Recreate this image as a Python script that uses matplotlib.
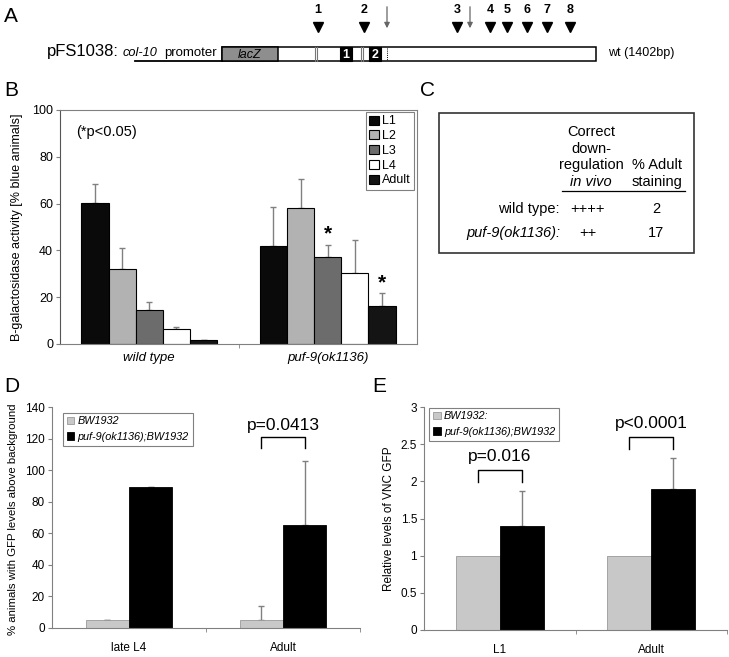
import matplotlib
matplotlib.use("Agg")
import matplotlib.pyplot as plt
from matplotlib.patches import Rectangle
import numpy as np

plt.rcParams['font.family'] = ['Liberation Sans', 'DejaVu Sans']

# ---------------- data ----------------
b_groups = ['wild type', 'puf-9(ok1136)']
b_stages = ['L1', 'L2', 'L3', 'L4', 'Adult']
b_wt = [60.4, 32.0, 14.6, 6.3, 1.5]
b_wt_err = [7.8, 9.0, 3.4, 1.0, 0.0]
b_puf = [41.8, 58.2, 37.2, 30.3, 16.4]
b_puf_err = [16.9, 12.5, 5.3, 14.0, 5.3]
b_stars = [False, False, True, False, True]
b_colors = ['#0a0a0a', '#b2b2b2', '#6c6c6c', '#ffffff', '#141414']

d_cats = ['late L4', 'Adult']
d_series = ['BW1932', 'puf-9(ok1136);BW1932']
d_bw = [5.0, 5.0]
d_bw_err = [0.0, 9.2]
d_puf = [89.5, 65.2]
d_puf_err = [0.0, 40.8]
d_pvals = [None, 'p=0.0413']

e_cats = ['L1', 'Adult']
e_series = ['BW1932:', 'puf-9(ok1136);BW1932']
e_bw = [1.0, 1.0]
e_puf = [1.40, 1.90]
e_puf_err = [0.47, 0.41]
e_pvals = ['p=0.016', 'p<0.0001']

W, H = 729, 657
fig = plt.figure(figsize=(W / 100, H / 100), dpi=100)


def box(l, t, r, b):
    return [l / W, 1 - b / H, (r - l) / W, (b - t) / H]


GREY = '#808080'

# ---------------- panel B ----------------
axB = fig.add_axes(box(60, 110, 417, 344))
x = np.arange(len(b_groups))
bw = 0.152
for i, st in enumerate(b_stages):
    off = (i - 2) * bw
    vals = [b_wt[i], b_puf[i]]
    errs = [b_wt_err[i], b_puf_err[i]]
    axB.bar(x + off, vals, bw, color=b_colors[i], edgecolor='#000000',
            linewidth=0.8, label=st, zorder=2)
    axB.errorbar(x + off, vals, yerr=[np.zeros(2), errs], fmt='none',
                 ecolor=GREY, elinewidth=1, capsize=2, capthick=1, zorder=1)
    if b_stars[i]:
        axB.text(1 + off, b_puf[i] + b_puf_err[i] + 4.5, '*', ha='center',
                 va='center', fontsize=15, fontweight='bold')
axB.set_xlim(-0.5, 1.5)
axB.set_ylim(0, 100)
axB.set_yticks(range(0, 101, 20))
axB.set_xticks(x)
axB.set_xticklabels(b_groups, fontstyle='italic', fontsize=9.5)
axB.set_xticks([0.5], minor=True)
axB.tick_params(axis='x', which='major', length=0, pad=6)
axB.tick_params(axis='x', which='minor', length=3, color=GREY)
axB.tick_params(axis='y', length=3, color=GREY, labelsize=9, pad=2)
for s in axB.spines.values():
    s.set_color(GREY)
axB.spines['left'].set_color('#555555')
axB.set_ylabel('B-galactosidase activity [% blue animals]', fontsize=9)
axB.yaxis.set_label_coords(-0.105, 0.5)
axB.text(0.045, 0.905, '(*p<0.05)', transform=axB.transAxes, fontsize=10.5,
         va='center')
legB = axB.legend(loc='upper right', bbox_to_anchor=(0.991, 0.99),
                  borderaxespad=0, fontsize=9, handlelength=0.75,
                  handleheight=0.75, handletextpad=0.25, labelspacing=0.22,
                  borderpad=0.25, fancybox=False, framealpha=1,
                  edgecolor=GREY)
legB.get_frame().set_linewidth(0.8)

# ---------------- panel D ----------------
axD = fig.add_axes(box(52, 407, 360, 628))
x = np.arange(len(d_cats))
w = 0.28
axD.bar(x - w / 2, d_bw, w, color='#c8c8c8', edgecolor='#999999',
        linewidth=0.6, label=d_series[0], zorder=2)
axD.bar(x + w / 2, d_puf, w, color='#000000', edgecolor='#000000',
        linewidth=0.6, label=d_series[1], zorder=2)
axD.errorbar(x - w / 2, d_bw, yerr=[np.zeros(2), d_bw_err], fmt='none',
             ecolor=GREY, elinewidth=1, capsize=2, zorder=1)
axD.errorbar(x + w / 2, d_puf, yerr=[np.zeros(2), d_puf_err], fmt='none',
             ecolor=GREY, elinewidth=1, capsize=2, zorder=1)
for i, p in enumerate(d_pvals):
    if p:
        x0, x1 = i - w / 2, i + w / 2
        axD.plot([x0, x0, x1, x1], [114, 121, 121, 114], color='#000000',
                 lw=1)
        axD.text(i, 128.5, p, ha='center', va='center', fontsize=12.5)
axD.set_xlim(-0.5, 1.5)
axD.set_ylim(0, 140)
axD.set_yticks(range(0, 141, 20))
axD.set_xticks(x)
axD.set_xticklabels(d_cats, fontsize=8.5)
axD.set_xticks([0.5, 1.5], minor=True)
axD.tick_params(axis='x', which='major', length=0, pad=10)
axD.tick_params(axis='x', which='minor', length=3, color=GREY)
axD.tick_params(axis='y', length=3, color=GREY, labelsize=8.5, pad=2)
axD.spines['top'].set_visible(False)
axD.spines['right'].set_visible(False)
axD.spines['left'].set_color(GREY)
axD.spines['bottom'].set_color(GREY)
axD.set_ylabel('% animals with GFP levels above background', fontsize=8.2)
axD.yaxis.set_label_coords(-0.11, 0.49)
legD = axD.legend(loc='upper left', bbox_to_anchor=(0.036, 0.975),
                  borderaxespad=0, handlelength=0.7,
                  handleheight=0.7, handletextpad=0.3, labelspacing=0.5,
                  borderpad=0.35, fancybox=False, framealpha=1,
                  edgecolor=GREY, prop={'style': 'italic', 'size': 7.8})
legD.get_frame().set_linewidth(0.8)

# ---------------- panel E ----------------
axE = fig.add_axes(box(424, 407, 727, 630))
x = np.arange(len(e_cats))
w = 0.29
axE.bar(x - w / 2, e_bw, w, color='#c8c8c8', edgecolor='#999999',
        linewidth=0.6, label=e_series[0], zorder=2)
axE.bar(x + w / 2, e_puf, w, color='#000000', edgecolor='#000000',
        linewidth=0.6, label=e_series[1], zorder=2)
axE.errorbar(x + w / 2, e_puf, yerr=[np.zeros(2), e_puf_err], fmt='none',
             ecolor=GREY, elinewidth=1, capsize=2, zorder=1)
br_top = [2.15, 2.60]
for i, p in enumerate(e_pvals):
    x0, x1 = i - w / 2, i + w / 2
    t = br_top[i]
    axE.plot([x0, x0, x1, x1], [t - 0.16, t, t, t - 0.16], color='#000000',
             lw=1)
    axE.text(i, t + 0.18, p, ha='center', va='center', fontsize=12.5)
axE.set_xlim(-0.5, 1.5)
axE.set_ylim(0, 3)
axE.set_yticks([0, 0.5, 1, 1.5, 2, 2.5, 3])
axE.set_yticklabels(['0', '0.5', '1', '1.5', '2', '2.5', '3'])
axE.set_xticks(x)
axE.set_xticklabels(e_cats, fontsize=8.5)
axE.set_xticks([0.5, 1.5], minor=True)
axE.tick_params(axis='x', which='major', length=0, pad=10)
axE.tick_params(axis='x', which='minor', length=3, color=GREY)
axE.tick_params(axis='y', length=3, color=GREY, labelsize=8.5, pad=2)
axE.spines['top'].set_visible(False)
axE.spines['right'].set_visible(False)
axE.spines['left'].set_color(GREY)
axE.spines['bottom'].set_color(GREY)
axE.set_ylabel('Relative levels of VNC GFP', fontsize=8.5)
axE.yaxis.set_label_coords(-0.095, 0.5)
legE = axE.legend(loc='upper left', bbox_to_anchor=(0.017, 0.997),
                  borderaxespad=0, handlelength=0.7,
                  handleheight=0.7, handletextpad=0.3, labelspacing=0.5,
                  borderpad=0.35, fancybox=False, framealpha=1,
                  edgecolor=GREY, prop={'style': 'italic', 'size': 7.8})
legE.get_frame().set_linewidth(0.8)

# ---------------- overlay: panel A, C, letters ----------------
ov = fig.add_axes([0, 0, 1, 1], facecolor='none')
ov.set_xlim(0, W)
ov.set_ylim(H, 0)
ov.axis('off')

for lab, (lx, ly) in {'A': (4, 17), 'B': (4, 90), 'C': (420, 90),
                      'D': (4, 387), 'E': (372, 387)}.items():
    ov.text(lx, ly, lab, fontsize=15, va='center', ha='left')

# panel A construct
ov.plot([135, 222], [61, 61], color='#000000', lw=1.3)
ov.text(47, 56, 'pFS1038:', fontsize=12, va='baseline')
ov.text(123, 56, 'col-10', fontsize=9.2, fontstyle='italic', va='baseline')
ov.text(164, 56, 'promoter', fontsize=9.5, va='baseline')
ov.add_patch(Rectangle((222, 47), 374, 14, facecolor='white',
                       edgecolor='#000000', lw=1.1))
ov.add_patch(Rectangle((222, 47), 56, 14, facecolor='#8e8e8e',
                       edgecolor='#000000', lw=1.1))
ov.text(250, 54.5, 'lacZ', fontsize=9, fontstyle='italic', ha='center',
        va='center')
for xv in [315, 317, 361, 363]:
    ov.plot([xv, xv], [47, 61], color='#777777', lw=0.8)
for (bx, lab) in [(340, '1'), (369, '2')]:
    ov.add_patch(Rectangle((bx, 47), 12.5, 14, facecolor='#000000',
                           edgecolor='#000000', lw=0.8))
    ov.text(bx + 6.2, 54.5, lab, color='white', fontsize=9, fontweight='bold',
            ha='center', va='center')
ov.plot([387, 387], [48, 60], color='#000000', lw=0.7, ls=(0, (1, 1.2)))
ov.text(608, 56, 'wt (1402bp)', fontsize=9, va='baseline')
site_x = [318, 364, 457, 490, 507, 527, 547, 570]
for k, sx in enumerate(site_x):
    ov.plot(sx, 27, marker='v', markersize=7.5, color='#000000')
    ov.text(sx, 10, str(k + 1), fontsize=9, fontweight='bold', ha='center',
            va='center')
for ax_ in [387, 470]:
    ov.annotate('', xy=(ax_, 31), xytext=(ax_, 4),
                arrowprops=dict(arrowstyle='-|>', color='#666666', lw=0.9,
                                mutation_scale=8))

# panel C table
ov.add_patch(Rectangle((439, 113), 255, 140, facecolor='none',
                       edgecolor='#333333', lw=1.2))
fsC = 10.5
ov.text(591, 132, 'Correct', fontsize=fsC, ha='center', va='center')
ov.text(591, 149, 'down-', fontsize=fsC, ha='center', va='center')
ov.text(591, 165, 'regulation', fontsize=fsC, ha='center', va='center')
ov.text(591, 182, 'in vivo', fontsize=fsC, ha='center', va='center',
        fontstyle='italic')
ov.text(657, 165, '% Adult', fontsize=fsC, ha='center', va='center')
ov.text(657, 182, 'staining', fontsize=fsC, ha='center', va='center')
ov.plot([562, 685], [191, 191], color='#000000', lw=0.9)
ov.text(560, 209, 'wild type:', fontsize=fsC, ha='right', va='center')
ov.text(588, 209, '++++', fontsize=fsC, ha='center', va='center')
ov.text(656, 209, '2', fontsize=fsC, ha='center', va='center')
ov.text(560, 233, 'puf-9(ok1136):', fontsize=fsC, ha='right', va='center',
        fontstyle='italic')
ov.text(588, 233, '++', fontsize=fsC, ha='center', va='center')
ov.text(656, 233, '17', fontsize=fsC, ha='center', va='center')

fig.savefig('out.png', dpi=100)
